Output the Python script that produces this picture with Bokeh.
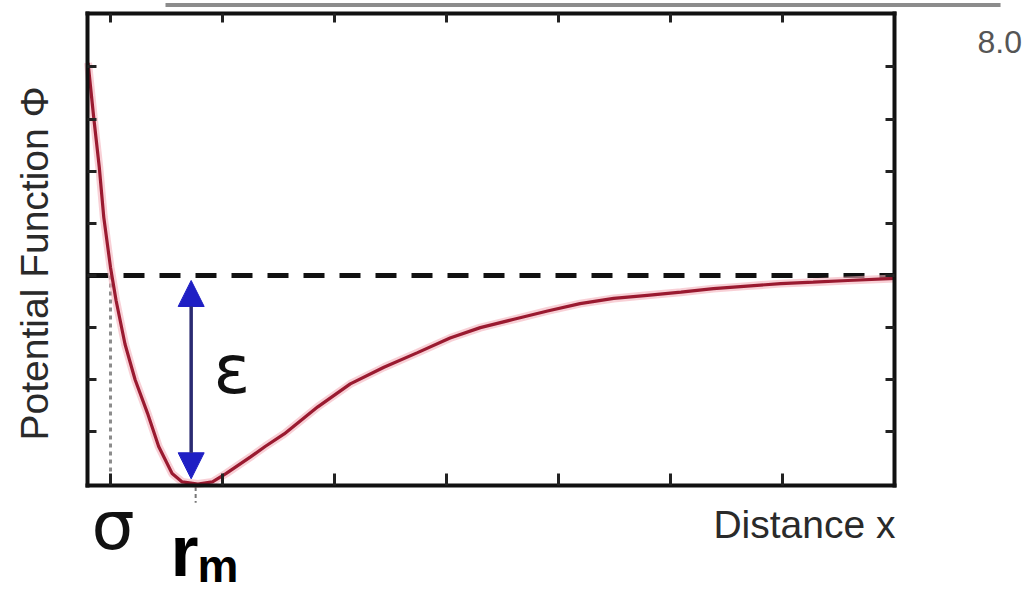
from math import pi
from bokeh.plotting import figure
from bokeh.models import (Range1d, LinearAxis, FixedTicker, Label, Arrow,
                          NormalHead)
from bokeh.embed import file_html
from bokeh.resources import INLINE

# ---- data (x in tick units, y in units of epsilon) ----
distance = [0.80, 0.85, 0.90, 0.94, 1.00, 1.05, 1.13, 1.22, 1.33, 1.43, 1.55,
            1.64, 1.78, 1.91, 2.03, 2.25, 2.38, 2.55, 2.85, 3.14, 3.44, 3.74,
            4.03, 4.30, 4.60, 4.90, 5.19, 5.49, 5.79, 6.09, 6.38, 6.68, 6.98,
            7.27, 7.58, 8.00]
potential = [1.02, 0.76, 0.52, 0.28, 0.04, -0.12, -0.33, -0.50, -0.66, -0.82,
             -0.95, -0.99, -1.00, -0.99, -0.95, -0.87, -0.82, -0.76, -0.63,
             -0.52, -0.44, -0.37, -0.30, -0.25, -0.21, -0.17, -0.135, -0.11,
             -0.095, -0.08, -0.063, -0.051, -0.039, -0.032, -0.024, -0.014]
x_ticks = [1, 2, 3, 4, 5, 6, 7]
y_ticks = [-0.75, -0.5, -0.25, 0.0, 0.25, 0.5, 0.75, 1.0]
sigma = 1.0
r_min = 1.76
epsilon_depth = -1.0
x_label = "Distance x"
y_label = "Potential Function Φ"
corner_text = "8.0"

# box (axes frame) limits in data units
box_x = (0.795, 8.0)
box_y = (-1.005, 1.255)

W, H = 1024, 592
p = figure(width=W, height=H,
           x_range=Range1d(0.0187, 9.1558), y_range=Range1d(-1.5204, 1.3189),
           output_backend="svg", toolbar_location=None,
           x_axis_location=None, y_axis_location=None,
           min_border=0, min_border_left=0, min_border_right=0,
           min_border_top=0, min_border_bottom=0)
p.title.visible = False
p.grid.visible = False
p.background_fill_color = "white"
p.border_fill_color = "white"
p.outline_line_color = None

def style_axis(ax, ticks, tick_len, loc, bounds):
    ax.ticker = FixedTicker(ticks=ticks)
    ax.fixed_location = loc
    ax.bounds = bounds
    ax.axis_line_color = "#111111"
    ax.axis_line_width = 4
    ax.axis_line_cap = "square"
    ax.major_tick_in = tick_len
    ax.major_tick_out = 0
    ax.minor_tick_line_color = None
    ax.major_tick_line_color = "#222222"
    ax.major_tick_line_width = 3
    ax.major_label_text_color = None
    ax.major_label_text_alpha = 0
    ax.major_label_standoff = 0

ax = LinearAxis(); style_axis(ax, x_ticks, 12, box_y[0], box_x); p.add_layout(ax, "below")
ax = LinearAxis(); style_axis(ax, x_ticks, 9, box_y[1], box_x); p.add_layout(ax, "above")
ax = LinearAxis(); style_axis(ax, y_ticks, 9, box_x[0], box_y); p.add_layout(ax, "left")
ax = LinearAxis(); style_axis(ax, y_ticks, 9, box_x[1], box_y); p.add_layout(ax, "right")

# faint grey rule at the very top of the picture
p.segment(x0=[1.491], y0=[1.297], x1=[8.942], y1=[1.297],
          line_color="#8c8c8c", line_width=4)

# zero line
p.segment(x0=[box_x[0]], y0=[0], x1=[box_x[1]], y1=[0],
          line_color="#111111", line_width=5, line_dash="21 15")

# sigma dotted line
p.segment(x0=[sigma], y0=[0], x1=[sigma], y1=[box_y[0]],
          line_color="#8c8c8c", line_width=3, line_dash="4 4")

# small dashed mark under r_m
p.segment(x0=[r_min], y0=[-1.015], x1=[r_min], y1=[-1.09],
          line_color="#777777", line_width=2, line_dash="4 3")

# potential curve (glow + core)
p.line(distance, potential, line_color="#f4b0ba", line_width=8, line_alpha=0.6)
p.line(distance, potential, line_color="#9a1a30", line_width=3.2)

# epsilon arrow
p.add_layout(Arrow(start=NormalHead(size=26, fill_color="#1f1fc4", line_color="#1f1fc4"),
                   end=NormalHead(size=26, fill_color="#1f1fc4", line_color="#1f1fc4"),
                   x_start=1.72, y_start=epsilon_depth + 0.025,
                   x_end=1.72, y_end=-0.024,
                   line_color="#2b2b72", line_width=3.5))

# texts
p.add_layout(Label(x=0.318, y=0.058, text=y_label, angle=pi / 2,
                   text_align="center", text_baseline="alphabetic",
                   text_font="Liberation Sans", text_font_size="39px",
                   text_color="#2a2a2a"))
p.add_layout(Label(x=8.005, y=-1.196, text=x_label,
                   text_align="right", text_baseline="alphabetic",
                   text_font="Liberation Sans", text_font_size="39px",
                   text_color="#2a2a2a"))
p.add_layout(Label(x=1.023, y=-1.197, text="σ",
                   text_align="center", text_baseline="alphabetic",
                   text_font="DejaVu Sans", text_font_size="68px",
                   text_color="#111111"))
p.add_layout(Label(x=1.536, y=-1.323, text="r",
                   text_align="left", text_baseline="alphabetic",
                   text_font="Liberation Sans", text_font_size="72px",
                   text_font_style="bold", text_color="#000000"))
p.add_layout(Label(x=1.776, y=-1.395, text="m",
                   text_align="left", text_baseline="alphabetic",
                   text_font="Liberation Sans", text_font_size="46px",
                   text_font_style="bold", text_color="#000000"))
p.add_layout(Label(x=2.084, y=-0.453, text="ε",
                   text_align="center", text_baseline="alphabetic",
                   text_font="DejaVu Sans", text_font_size="68px",
                   text_color="#111111"))
p.add_layout(Label(x=8.736, y=1.118, text=corner_text,
                   text_align="left", text_baseline="alphabetic",
                   text_font="Liberation Sans", text_font_size="32px",
                   text_color="#555555"))

open("out.html", "w").write(file_html(p, INLINE))
